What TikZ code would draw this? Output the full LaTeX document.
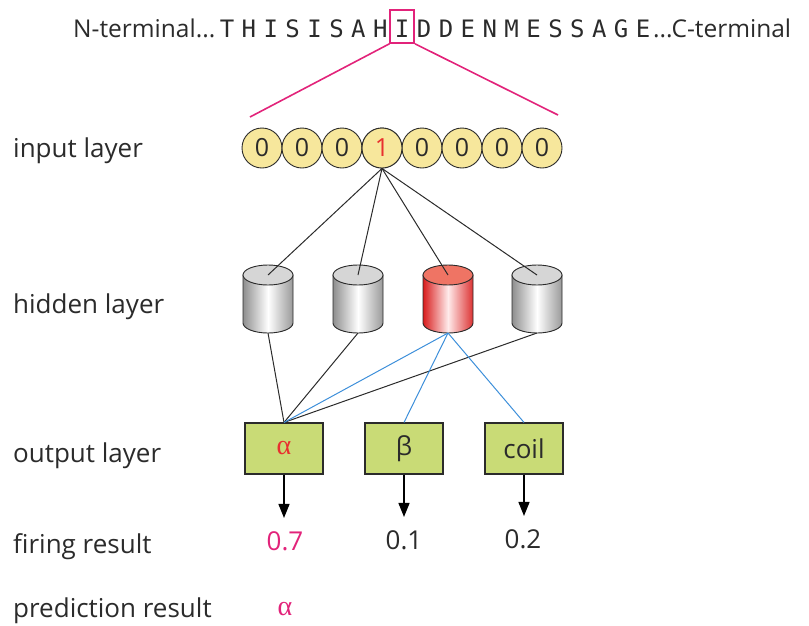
\documentclass[tikz,border=0pt]{standalone}
\usepackage{fontspec}
\setmainfont{Open Sans}
\newfontfamily\seqfont{DejaVu Sans Mono}
\newfontfamily\greekserif{Liberation Serif}
\usetikzlibrary{arrows.meta}
\definecolor{pinkline}{HTML}{E2237A}
\definecolor{redtxt}{HTML}{E8302F}
\definecolor{beadfill}{HTML}{F7E79C}
\definecolor{boxfill}{HTML}{C9DB76}
\definecolor{bluelink}{HTML}{3D8FDA}
\definecolor{ink}{HTML}{2B2B2B}
\definecolor{cylgrey}{HTML}{8E8E8E}
\definecolor{cyltop}{HTML}{D6D6D6}
\definecolor{cylred}{HTML}{D81C1C}
\definecolor{cylredtop}{HTML}{EF7464}

\begin{document}
\begin{tikzpicture}[x=1pt,y=-1pt,
  lbl/.style={anchor=base west, font=\fontsize{26}{30}\selectfont, text=ink, inner sep=0},
  seqtext/.style={anchor=base west, font=\fontsize{24.5}{28}\selectfont, text=ink, inner sep=0},
  seqletter/.style={anchor=base, inner sep=0, font=\seqfont\fontsize{24}{28}\selectfont, text=ink},
  bead/.style={circle, draw=ink, line width=0.9pt, fill=beadfill, minimum size=40pt,
    inner sep=0, font=\fontsize{25}{29}\selectfont, text=ink},
  outbox/.style={rectangle, draw=ink, line width=1.1pt, fill=boxfill, minimum width=78pt,
    minimum height=51pt, inner sep=0, font=\fontsize{26}{30}\selectfont, text=ink},
  valtext/.style={anchor=base, inner sep=0, font=\fontsize{26}{30}\selectfont, text=ink},
  link/.style={draw=ink, line width=1pt},
  bluelinkstyle/.style={draw=bluelink, line width=1pt},
  pinkzoom/.style={draw=pinkline, line width=1.6pt},
  fire/.style={-{Triangle[length=14pt,width=11pt]}, line width=1.4pt, draw=black, shorten >=13pt},
]
\useasboundingbox (0,0) rectangle (809,625);

% ---- protein sequence ----
\node[seqtext] (nterm) at (73,37) {N-terminal...};
\foreach \c [count=\i] in {T,H,I,S,I,S,A,H,I,D,D,E,N,M,E,S,S,A,G,E} {
  \node[seqletter] (s\i) at ({227+21.9*(\i-1)},37) {\c};
}
\node[seqtext] (cterm) at (653,37) {...C-terminal};

% window on the current residue
\node[pinkzoom, minimum width=24pt, minimum height=33pt, inner sep=0] (sel) at (s9 |- 0,26.5) {};
\coordinate (zl) at (250,117);
\coordinate (zr) at (558,115);
\draw[pinkzoom] (sel.south west) -- (zl);
\draw[pinkzoom] (sel.south east) -- (zr);

% ---- input layer ----
\foreach \v [count=\i] in {0,0,0,1,0,0,0,0} {
  \node[bead] (b\i) at ({262+40*(\i-1)},148) {\v};
}
\node[bead, text=redtxt] at (b4) {1};

% ---- hidden layer (cylinders) ----
\foreach \cx [count=\i] in {268,358,448,537} {
  \ifnum\i=3
    \def\sidecol{cylred}\def\topcol{cylredtop}\def\midcol{red!8}
  \else
    \def\sidecol{cylgrey}\def\topcol{cyltop}\def\midcol{white}
  \fi
  \shade[left color=\sidecol, right color=\sidecol!90, middle color=\midcol, draw=ink, line width=0.9pt]
    (\cx-25,275) -- (\cx-25,323) arc[start angle=180, end angle=0, x radius=25, y radius=10]
    -- (\cx+25,275) -- cycle;
  \filldraw[fill=\topcol, draw=ink, line width=0.9pt] (\cx,275) ellipse[x radius=25, y radius=10];
  \coordinate (h\i t) at (\cx,275);
  \coordinate (h\i b) at (\cx,333);
}

\foreach \i in {1,2,3,4} {
  \draw[link] (b4.south) -- (h\i t);
}

% ---- output layer ----
\node[outbox, text=redtxt, font=\greekserif\fontsize{28}{30}\selectfont] (o1) at (284,448.5) {α};
\node[outbox] (o2) at (404,448.5) {β};
\node[outbox] (o3) at (524,448.5) {coil};

\draw[link] (h1b) -- (o1.north);
\draw[link] (h2b) -- (o1.north);
\draw[link] (h4b) -- (o1.north);
\draw[bluelinkstyle] (h3b) -- (o1.north);
\draw[bluelinkstyle] (h3b) -- (o2.north);
\draw[bluelinkstyle] (h3b) -- (o3.north);

% ---- firing results ----
\node[valtext, text=pinkline] (v1) at (285,550) {0.7};
\node[valtext] (v2) at (404,549) {0.1};
\node[valtext] (v3) at (523,548) {0.2};
\draw[fire] (o1.south) -- (o1.south |- v1.north);
\draw[fire] (o2.south) -- (o2.south |- v2.north);
\draw[fire] (o3.south) -- (o3.south |- v3.north);

% ---- prediction ----
\node[valtext, text=pinkline, font=\greekserif\fontsize{28}{30}\selectfont] (pred) at (285,615) {α};

% ---- row labels ----
\node[lbl] (linput) at (13,157) {input layer};
\node[lbl] (lhidden) at (13,313) {hidden layer};
\node[lbl] (loutput) at (13,462) {output layer};
\node[lbl] (lfiring) at (13,553) {firing result};
\node[lbl] (lpred) at (13,617) {prediction result};
\end{tikzpicture}
\end{document}
